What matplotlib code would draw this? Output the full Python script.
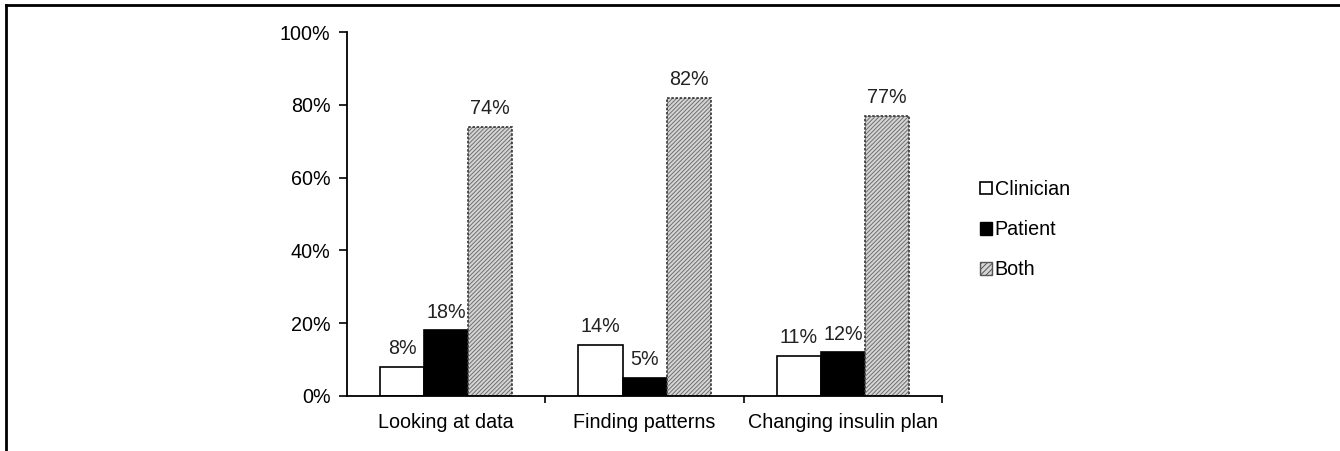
import matplotlib
matplotlib.use('Agg')
import matplotlib.pyplot as plt
import numpy as np
from matplotlib.patches import Patch
from matplotlib.lines import Line2D

plt.rcParams['font.family'] = ['Liberation Sans', 'DejaVu Sans']
plt.rcParams['hatch.linewidth'] = 0.7

categories = ['Looking at data', 'Finding patterns', 'Changing insulin plan']
series = ['Clinician', 'Patient', 'Both']
clinician = [8, 14, 11]
patient = [18, 5, 12]
both = [74, 82, 77]

fig = plt.figure(figsize=(13.4, 4.51), dpi=100)
ax = fig.add_axes([0.259, 0.122, 0.444, 0.807])

x = np.arange(len(categories))
w = 0.222

b1 = ax.bar(x - w, clinician, w, color='white', edgecolor='black', linewidth=1.2)
b2 = ax.bar(x, patient, w, color='black', edgecolor='black', linewidth=1.2)
# заштрихованные столбцы: сначала штриховка, потом пунктирная рамка
b3 = ax.bar(x + w, both, w, color='#d6d6d6', edgecolor='#6e6e6e', hatch='////////', linewidth=0)
ax.bar(x + w, both, w, fill=False, edgecolor='#333333', linewidth=1.2, linestyle=(0, (1.5, 1)))

fs = 14.2
for bars, vals in [(b1, clinician), (b2, patient), (b3, both)]:
    for r, v in zip(bars, vals):
        ax.text(r.get_x() + r.get_width() / 2, v + 2.4, '%d%%' % v,
                ha='center', va='bottom', fontsize=fs, color='#222222')

ax.set_xlim(-0.5, 2.5)
ax.set_ylim(0, 100)
ax.set_yticks(range(0, 101, 20))
ax.set_yticklabels(['%d%%' % t for t in range(0, 101, 20)], fontsize=fs)
ax.set_xticks([0.5, 1.5, 2.5])
ax.set_xticklabels([])
ax.set_xticks(x, minor=True)
ax.set_xticklabels(categories, minor=True, fontsize=fs)
ax.tick_params(axis='x', which='minor', length=0, pad=12)
ax.tick_params(axis='x', which='major', length=5, width=1.2, direction='out')
ax.tick_params(axis='y', length=6, width=1.2, direction='out', pad=6)
ax.spines['top'].set_visible(False)
ax.spines['right'].set_visible(False)
for s in ['left', 'bottom']:
    ax.spines[s].set_linewidth(1.3)

handles = [Patch(facecolor='white', edgecolor='black', linewidth=1.2),
           Patch(facecolor='black', edgecolor='black'),
           Patch(facecolor='#d6d6d6', edgecolor='#555555', hatch='//////', linewidth=1)]
fig.legend(handles, series, loc='upper left', bbox_to_anchor=(0.718, 0.64),
           frameon=False, fontsize=fs, handlelength=0.6, handleheight=0.6,
           handletextpad=0.15, labelspacing=1.07)

# рамка рисунка слева и сверху
fig.add_artist(Line2D([0.0045, 0.0045], [0, 0.99], transform=fig.transFigure, color='black', lw=2))
fig.add_artist(Line2D([0.0045, 1], [0.99, 0.99], transform=fig.transFigure, color='black', lw=2))

fig.savefig('out.png', dpi=100)
